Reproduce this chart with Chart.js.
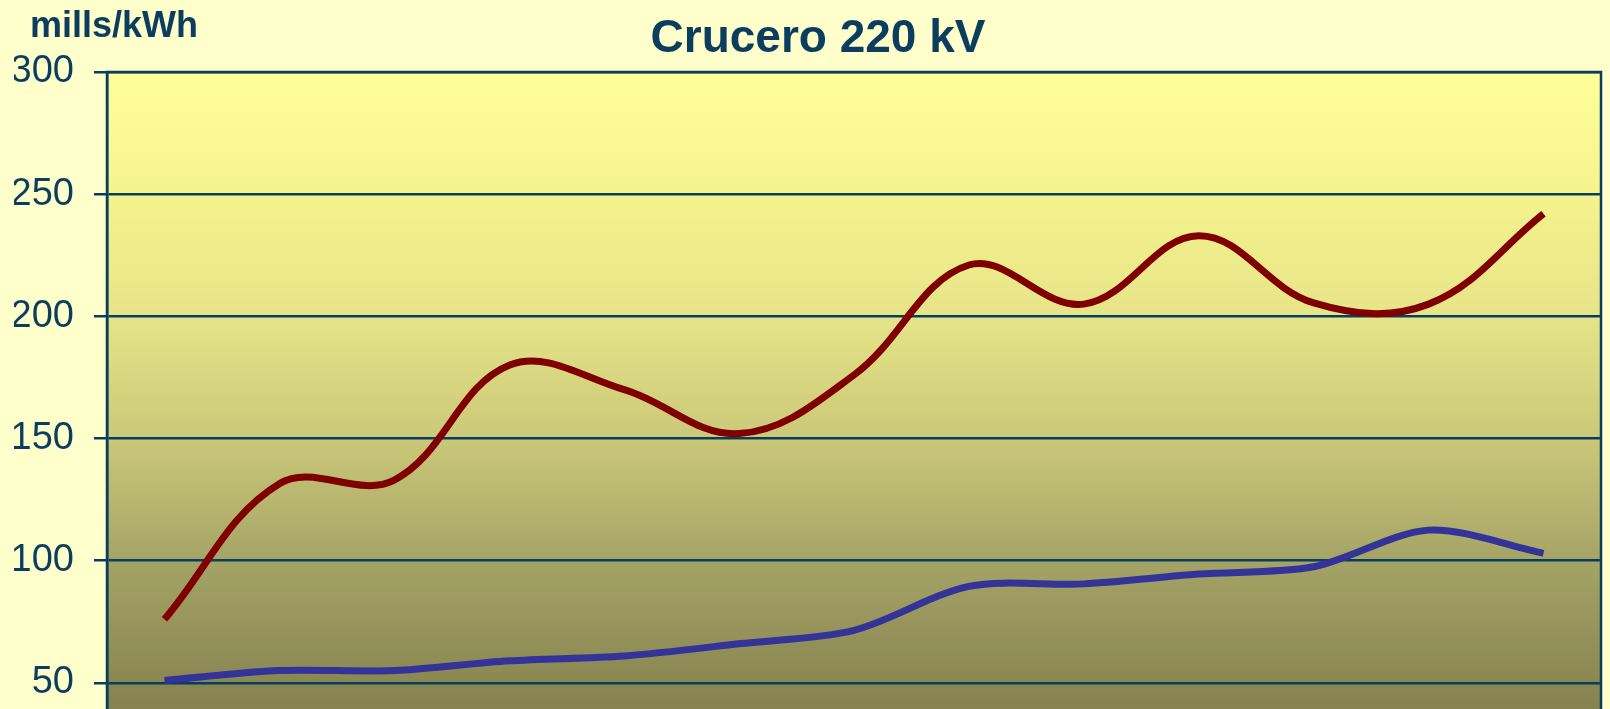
<!DOCTYPE html>
<html>
<head>
<meta charset="utf-8">
<title>Crucero 220 kV</title>
<script src="https://cdn.jsdelivr.net/npm/chart.js@4/dist/chart.umd.min.js"></script>
<style>
  html, body { margin: 0; padding: 0; background: #FFFFCC; overflow: hidden; }
</style>
</head>
<body>
<canvas id="cruceroChart" width="1610" height="860"></canvas>
<script>
// --- 1. DATA ---
// 13 periods along the x axis (the axis itself sits below the visible area)
const periods = ['2005', '2006', '2007', '2008', '2009', '2010', '2011', '2012', '2013', '2014', '2015', '2016', '2017'];
// upper (dark red) curve, mills/kWh
const redValues = [76, 131.5, 133, 180, 170, 152, 176, 221, 205, 233, 205.5, 205, 242];
// lower (blue) curve, mills/kWh
const blueValues = [51, 55, 55, 59, 61, 66, 71.5, 89.5, 90.5, 94.5, 97.5, 112.5, 103];
// y axis tick labels
const yTicks = [0, 50, 100, 150, 200, 250, 300];

const inkColor = '#0B3E5E';
const gridColor = '#063F5E';
const fontFamily = "'Liberation Sans', Arial, sans-serif";

// --- 2. PLOT BACKGROUND, FRAME AND TEXTS ---
const framePlugin = {
    id: 'frame',
    beforeDraw(chart) {
        const { ctx, chartArea, scales } = chart;
        const y = scales.y;
        const g = ctx.createLinearGradient(0, chartArea.top, 0, chartArea.bottom);
        // colour stops placed by value, light yellow at the top to olive at the bottom
        const stops = [[300, '#FFFF99'], [250, '#F5F38D'], [200, '#E6E488'], [150, '#CBC879'], [100, '#A5A466'], [50, '#8A8753'], [0, '#767344']];
        stops.forEach(([v, c]) => {
            const f = (y.getPixelForValue(v) - chartArea.top) / (chartArea.bottom - chartArea.top);
            g.addColorStop(Math.min(1, Math.max(0, f)), c);
        });
        ctx.save();
        ctx.fillStyle = g;
        ctx.fillRect(chartArea.left, chartArea.top, chartArea.right - chartArea.left, chartArea.bottom - chartArea.top);
        ctx.restore();
    },
    beforeDatasetsDraw(chart) {
        const { ctx, chartArea } = chart;
        ctx.save();
        ctx.strokeStyle = gridColor;
        ctx.lineWidth = 2.5;
        ctx.strokeRect(chartArea.left, chartArea.top, chartArea.right - chartArea.left, chartArea.bottom - chartArea.top);
        ctx.restore();
    },
    afterDraw(chart) {
        const { ctx } = chart;
        ctx.save();
        ctx.fillStyle = inkColor;
        ctx.textBaseline = 'alphabetic';
        // unit label top-left
        ctx.font = 'bold 36px ' + fontFamily;
        ctx.textAlign = 'left';
        ctx.fillText('mills/kWh', 30, 37);
        // chart title
        ctx.font = 'bold 46px ' + fontFamily;
        ctx.textAlign = 'center';
        ctx.fillText('Crucero 220 kV', 818, 52);
        ctx.restore();
    }
};

// --- 3. BUILD THE CHART ---
const ctx = document.getElementById('cruceroChart').getContext('2d');
const cruceroChart = new Chart(ctx, {
    type: 'line',
    data: {
        labels: periods,
        datasets: [{
            label: 'Crucero 220 kV (superior)',
            data: redValues,
            borderColor: '#800000',
            borderWidth: 7,
            pointRadius: 0,
            tension: 0.38,
            fill: false
        }, {
            label: 'Crucero 220 kV (inferior)',
            data: blueValues,
            borderColor: '#333399',
            borderWidth: 7,
            pointRadius: 0,
            tension: 0.3,
            fill: false
        }]
    },
    options: {
        responsive: false,
        animation: false,
        layout: { padding: { top: 72, left: 14, right: 9, bottom: 55 } },
        plugins: {
            legend: { display: false },
            title: { display: false },
            tooltip: { enabled: false }
        },
        scales: {
            x: {
                display: false,
                offset: true
            },
            y: {
                min: 0,
                max: 300,
                afterBuildTicks: (axis) => { axis.ticks = yTicks.map(v => ({ value: v })); },
                afterFit: (axis) => { axis.width = 93; },
                ticks: {
                    color: inkColor,
                    font: { family: fontFamily, size: 38 },
                    padding: 20
                },
                grid: {
                    color: gridColor,
                    lineWidth: 2.5,
                    tickLength: 13
                },
                border: { display: true, color: gridColor, width: 2.5 }
            }
        }
    },
    plugins: [framePlugin]
});
</script>
</body>
</html>
